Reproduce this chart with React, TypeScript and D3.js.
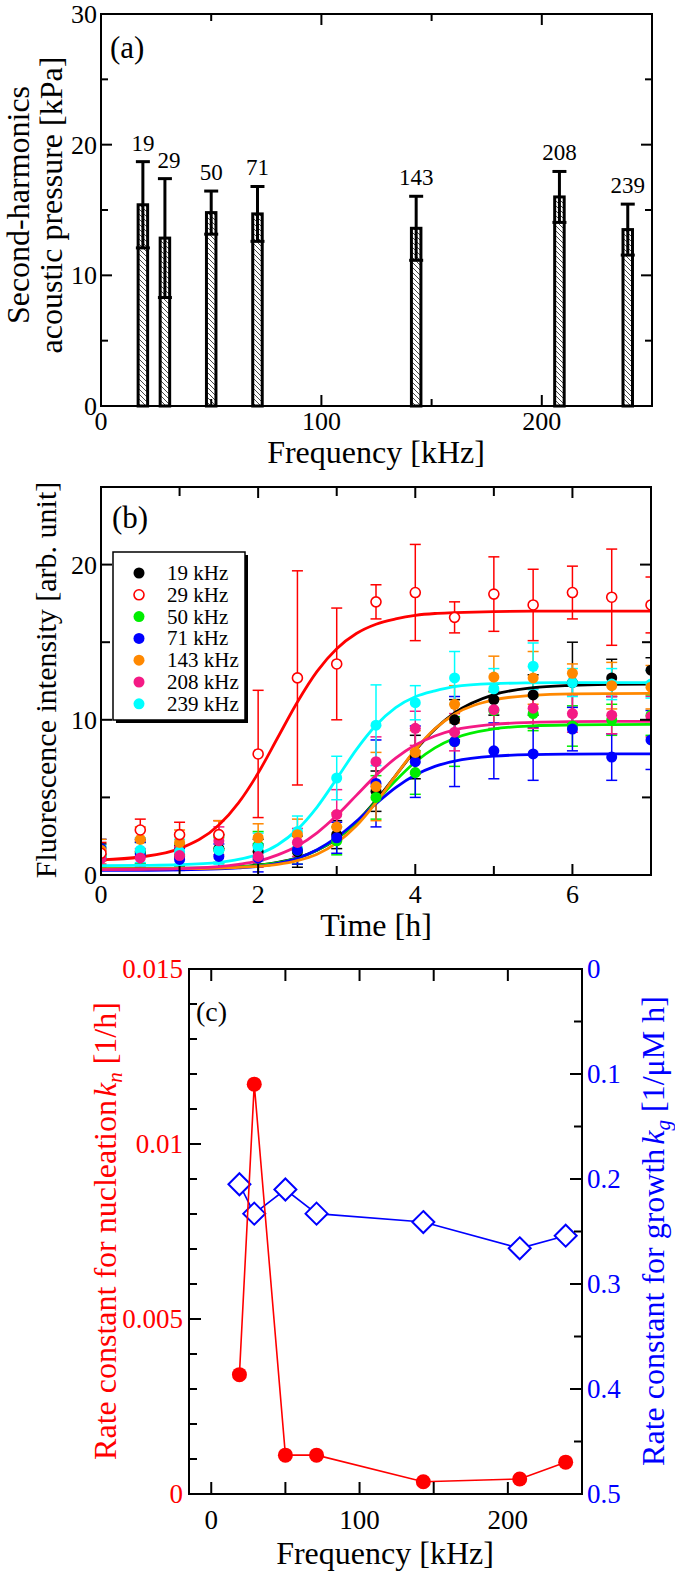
import React from 'react';
import * as d3 from 'd3';

const FONT = '"Liberation Serif", "Times New Roman", Times, serif';

// ---- panel (a): second-harmonics acoustic pressure
const freqA = [19, 29, 50, 71, 143, 208, 239];
const pressure = [15.4, 12.85, 14.8, 14.7, 13.6, 16.0, 13.5];
const pressureErr = [3.3, 4.55, 1.65, 2.1, 2.45, 1.95, 1.95];

// ---- panel (b): fluorescence vs time
const times = [0, 0.5, 1, 1.5, 2, 2.5, 3, 3.5, 4, 4.5, 5, 5.5, 6, 6.5, 7];
const f19 = [1.3, 1.5, 1.2, 1.7, 1.5, 1.5, 2.6, 5.4, 7.6, 10.0, 11.3, 11.6, 12.4, 12.7, 13.2];
const e19 = [0.7, 0.8, 0.7, 0.9, 0.8, 1.0, 0.9, 1.3, 1.4, 1.3, 1.0, 1.3, 2.6, 1.2, 0.8];
const f29 = [1.4, 2.9, 2.6, 2.6, 7.8, 12.7, 13.6, 17.6, 18.2, 16.6, 18.1, 17.4, 18.2, 17.9, 17.4];
const e29 = [0.7, 0.7, 0.8, 0.9, 4.1, 6.9, 3.6, 1.1, 3.1, 1.0, 2.4, 2.3, 1.7, 3.1, 1.8];
const f50 = [1.2, 1.4, 1.3, 1.6, 1.9, 1.6, 2.2, 5.0, 6.6, 8.6, 10.6, 10.4, 9.6, 10.0, 10.3];
const e50 = [0.6, 0.7, 0.7, 0.8, 0.9, 0.9, 0.9, 1.4, 1.4, 1.6, 1.2, 1.1, 1.3, 1.0, 1.3];
const f71 = [1.7, 1.3, 1.0, 1.2, 1.1, 1.6, 2.4, 5.9, 7.3, 8.6, 8.0, 7.8, 9.4, 7.6, 8.7];
const e71 = [0.6, 0.8, 0.7, 0.8, 0.9, 0.9, 1.0, 2.8, 2.3, 2.9, 1.8, 1.7, 1.4, 1.5, 1.9];
const f143 = [1.6, 2.3, 2.1, 2.6, 2.4, 2.6, 3.1, 5.7, 7.9, 11.0, 12.75, 12.7, 13.0, 12.2, 12.1];
const e143 = [0.7, 0.8, 0.8, 0.9, 0.9, 1.0, 0.9, 2.2, 1.4, 1.2, 1.35, 1.7, 0.6, 1.5, 1.4];
const f208 = [1.05, 1.1, 1.25, 2.2, 1.2, 2.1, 3.9, 7.3, 9.45, 9.2, 10.65, 10.75, 10.4, 10.3, 10.2];
const e208 = [0.5, 0.6, 0.6, 0.9, 0.7, 0.9, 1.6, 1.6, 1.1, 1.2, 1.2, 1.3, 1.2, 1.2, 1.3];
const f239 = [1.2, 1.6, 1.5, 1.6, 1.8, 2.8, 6.25, 9.65, 11.1, 12.7, 12.0, 13.45, 12.4, 12.3, 12.3];
const e239 = [0.7, 0.8, 0.8, 0.9, 0.9, 1.0, 1.4, 2.6, 1.1, 1.7, 1.3, 1.5, 0.9, 1.0, 0.9];

// fitted curves
const fitT = [0, 0.5, 1, 1.5, 1.75, 2, 2.25, 2.5, 2.75, 3, 3.25, 3.5, 3.75, 4, 4.25, 4.5, 5, 5.5, 6, 6.5, 7];
const fit19 = [0.4, 0.41, 0.43, 0.48, 0.54, 0.64, 0.82, 1.11, 1.59, 2.33, 3.4, 4.8, 6.41, 8.03, 9.4, 10.44, 11.62, 12.07, 12.22, 12.28, 12.3];
const fit29 = [0.98, 1.16, 1.7, 3.22, 4.65, 6.57, 8.86, 11.15, 13.12, 14.58, 15.56, 16.16, 16.5, 16.73, 16.85, 16.9, 16.97, 17.0, 17.0, 17.0, 17.0];
const fit50 = [0.4, 0.4, 0.42, 0.47, 0.53, 0.62, 0.79, 1.09, 1.6, 2.34, 3.4, 4.72, 6.08, 7.28, 8.19, 8.81, 9.41, 9.61, 9.67, 9.69, 9.7];
const fit71 = [0.3, 0.3, 0.33, 0.4, 0.46, 0.55, 0.75, 1.08, 1.63, 2.42, 3.46, 4.59, 5.63, 6.44, 7.0, 7.34, 7.66, 7.76, 7.79, 7.8, 7.8];
const fit143 = [0.4, 0.4, 0.41, 0.45, 0.49, 0.56, 0.69, 0.93, 1.34, 2.07, 3.17, 4.67, 6.4, 8.07, 9.42, 10.36, 11.28, 11.58, 11.67, 11.69, 11.7];
const fit208 = [0.35, 0.37, 0.41, 0.54, 0.69, 0.9, 1.3, 1.87, 2.72, 3.83, 5.13, 6.42, 7.53, 8.38, 8.96, 9.35, 9.71, 9.83, 9.88, 9.9, 9.9];
const fit239 = [0.6, 0.62, 0.66, 0.81, 1.0, 1.34, 1.95, 2.94, 4.38, 6.2, 8.08, 9.65, 10.79, 11.49, 11.87, 12.14, 12.33, 12.38, 12.4, 12.4, 12.4];

const seriesLabels = ['19 kHz', '29 kHz', '50 kHz', '71 kHz', '143 kHz', '208 kHz', '239 kHz'];
const seriesColors = ['#000000', '#ff0000', '#00ee00', '#0000ff', '#ff8800', '#f41a85', '#00ffff'];

// ---- panel (c): rate constants
const freqC = [19, 29, 50, 71, 143, 208, 239];
const kn = [0.00341, 0.01171, 0.00111, 0.00111, 0.00035, 0.00043, 0.00091];
const kg = [0.205, 0.233, 0.21, 0.233, 0.241, 0.266, 0.254];

const series = seriesLabels.map((label, i) => ({
  label,
  color: seriesColors[i],
  open: i === 1,
  mean: [f19, f29, f50, f71, f143, f208, f239][i],
  err: [e19, e29, e50, e71, e143, e208, e239][i],
  fit: [fit19, fit29, fit50, fit71, fit143, fit208, fit239][i],
}));

type Scale = d3.ScaleLinear<number, number>;

// inward tick marks on one side of a frame
function Ticks({ scale, values, side, at, len, w = 2 }: { scale: Scale; values: number[]; side: string; at: number; len: number; w?: number }) {
  return (
    <g stroke="#000" strokeWidth={w}>
      {values.map((v, i) => {
        const p = scale(v);
        if (side === 'bottom') return <line key={i} x1={p} x2={p} y1={at} y2={at - len} />;
        if (side === 'top') return <line key={i} x1={p} x2={p} y1={at} y2={at + len} />;
        if (side === 'left') return <line key={i} y1={p} y2={p} x1={at} x2={at + len} />;
        return <line key={i} y1={p} y2={p} x1={at} x2={at - len} />;
      })}
    </g>
  );
}

export default function App() {
  // panel a
  const ax = d3.scaleLinear().domain([0, 250]).range([101, 652]);
  const ay = d3.scaleLinear().domain([0, 30]).range([406, 14]);
  // panel b
  const bx = d3.scaleLinear().domain([0, 7]).range([101, 651]);
  const by = d3.scaleLinear().domain([0, 25]).range([875, 487]);
  // panel c
  const cx = d3.scaleLinear().domain([-15, 250]).range([189, 582]);
  const cyL = d3.scaleLinear().domain([0, 0.015]).range([1494, 969]);
  const cyR = d3.scaleLinear().domain([0, 0.5]).range([969, 1494]);

  const barW = 9.5;
  const capW = 14;

  const fitLine = d3.line<number>().x((_, i) => bx(fitT[i])).y(d => by(d)).curve(d3.curveMonotoneX);
  const knLine = d3.line<number>().x((_, i) => cx(freqC[i])).y(d => cyL(d));
  const kgLine = d3.line<number>().x((_, i) => cx(freqC[i])).y(d => cyR(d));

  const pointOrder = [0, 2, 3, 6, 4, 5, 1];

  return (
    <svg width={675} height={1575} style={{ position: 'absolute', left: 0, top: 0, background: '#fff' }} fontFamily={FONT}>
      <defs>
        <pattern id="hatch" patternUnits="userSpaceOnUse" width={5} height={5}>
          <line x1={-1} y1={-1} x2={6} y2={6} stroke="#333" strokeWidth={0.9} />
          <line x1={-1} y1={4} x2={1} y2={6} stroke="#333" strokeWidth={0.9} />
          <line x1={4} y1={-1} x2={6} y2={1} stroke="#333" strokeWidth={0.9} />
        </pattern>
        <clipPath id="clipB">
          <rect x={101} y={487} width={550} height={388} />
        </clipPath>
      </defs>
      <rect x={0} y={0} width={675} height={1575} fill="#fff" />

      {/* ================= panel (a) ================= */}
      <g>
        {freqA.map((f, i) => {
          const x = ax(f);
          return (
            <g key={i}>
              <rect x={x - barW / 2} y={ay(pressure[i])} width={barW} height={ay(0) - ay(pressure[i])} fill="url(#hatch)" stroke="#000" strokeWidth={3} />
              <line x1={x} x2={x} y1={ay(pressure[i] - pressureErr[i])} y2={ay(pressure[i] + pressureErr[i])} stroke="#000" strokeWidth={3} />
              <line x1={x - capW / 2} x2={x + capW / 2} y1={ay(pressure[i] + pressureErr[i])} y2={ay(pressure[i] + pressureErr[i])} stroke="#000" strokeWidth={3} />
              <line x1={x - capW / 2} x2={x + capW / 2} y1={ay(pressure[i] - pressureErr[i])} y2={ay(pressure[i] - pressureErr[i])} stroke="#000" strokeWidth={3} />
              <text x={x + (i === 1 ? 4 : 0)} y={ay(pressure[i] + pressureErr[i]) - 11} fontSize={23} textAnchor="middle">{f}</text>
            </g>
          );
        })}
        <rect x={101} y={14} width={551} height={392} fill="none" stroke="#000" strokeWidth={2} />
        <Ticks scale={ax} values={[0, 100, 200]} side="bottom" at={406} len={11} />
        <Ticks scale={ax} values={[50, 150, 250]} side="bottom" at={406} len={7} />
        <Ticks scale={ax} values={[0, 100, 200]} side="top" at={14} len={11} />
        <Ticks scale={ax} values={[50, 150, 250]} side="top" at={14} len={7} />
        <Ticks scale={ay} values={[10, 20]} side="left" at={101} len={11} />
        <Ticks scale={ay} values={[5, 15, 25]} side="left" at={101} len={7} />
        <Ticks scale={ay} values={[10, 20]} side="right" at={652} len={11} />
        <Ticks scale={ay} values={[5, 15, 25]} side="right" at={652} len={7} />
        {[0, 10, 20, 30].map(v => (
          <text key={v} x={97} y={ay(v) + 9} fontSize={26} textAnchor="end">{v}</text>
        ))}
        {[0, 100, 200].map(v => (
          <text key={v} x={ax(v)} y={430} fontSize={26} textAnchor="middle">{v}</text>
        ))}
        <text x={110} y={58} fontSize={31}>(a)</text>
        <text x={376} y={463} fontSize={32} textAnchor="middle">Frequency [kHz]</text>
        <text transform="translate(29,205) rotate(-90)" fontSize={32} textAnchor="middle">Second-harmonics</text>
        <text transform="translate(62,205) rotate(-90)" fontSize={32} textAnchor="middle">acoustic pressure [kPa]</text>
      </g>

      {/* ================= panel (b) ================= */}
      <g>
        <g clipPath="url(#clipB)">
          {series.map((s, si) => (
            <g key={si} stroke={s.color} strokeWidth={1.5}>
              {times.map((t, i) => {
                const x = bx(t);
                const hi = by(s.mean[i] + s.err[i]);
                const lo = by(s.mean[i] - s.err[i]);
                return (
                  <g key={i}>
                    <line x1={x} x2={x} y1={lo} y2={hi} />
                    <line x1={x - 5.5} x2={x + 5.5} y1={hi} y2={hi} />
                    <line x1={x - 5.5} x2={x + 5.5} y1={lo} y2={lo} />
                  </g>
                );
              })}
            </g>
          ))}
          {[0, 2, 3, 4, 5, 6, 1].map(si => (
            <path key={si} d={fitLine(series[si].fit) || ''} fill="none" stroke={series[si].color} strokeWidth={2.8} />
          ))}
          {pointOrder.map(si => {
            const s = series[si];
            return (
              <g key={si}>
                {times.map((t, i) => (
                  <circle key={i} cx={bx(t)} cy={by(s.mean[i])} r={s.open ? 5 : 5.5}
                    fill={s.open ? '#fff' : s.color} stroke={s.color} strokeWidth={s.open ? 1.6 : 0} />
                ))}
              </g>
            );
          })}
        </g>
        <rect x={101} y={487} width={550} height={388} fill="none" stroke="#000" strokeWidth={2} />
        <Ticks scale={bx} values={[0, 2, 4, 6]} side="bottom" at={875} len={11} />
        <Ticks scale={bx} values={[1, 3, 5, 7]} side="bottom" at={875} len={9} />
        <Ticks scale={bx} values={[0, 2, 4, 6]} side="top" at={487} len={11} />
        <Ticks scale={bx} values={[1, 3, 5, 7]} side="top" at={487} len={9} />
        <Ticks scale={by} values={[10, 20]} side="left" at={101} len={11} />
        <Ticks scale={by} values={[5, 15, 25]} side="left" at={101} len={9} />
        <Ticks scale={by} values={[10, 20]} side="right" at={651} len={11} />
        <Ticks scale={by} values={[5, 15, 25]} side="right" at={651} len={9} />
        {[0, 10, 20].map(v => (
          <text key={v} x={97} y={by(v) + 9} fontSize={26} textAnchor="end">{v}</text>
        ))}
        {[0, 2, 4, 6].map(v => (
          <text key={v} x={bx(v)} y={903} fontSize={26} textAnchor="middle">{v}</text>
        ))}
        <text x={112} y={528} fontSize={31}>(b)</text>
        <text x={376} y={936} fontSize={32} textAnchor="middle">Time [h]</text>
        <text transform="translate(56,680) rotate(-90)" fontSize={30} textAnchor="middle">Fluorescence intensity [arb. unit]</text>

        {/* legend */}
        <rect x={116} y={555} width={132} height={168} fill="#000" />
        <rect x={113} y={552} width={132} height={168} fill="#fff" stroke="#000" strokeWidth={1.5} />
        {series.map((s, i) => {
          const yy = 573 + i * 21.8;
          return (
            <g key={i}>
              <circle cx={139} cy={yy} r={s.open ? 5 : 5.5} fill={s.open ? '#fff' : s.color} stroke={s.color} strokeWidth={s.open ? 1.6 : 0} />
              <text x={167} y={yy + 7} fontSize={21}>{s.label}</text>
            </g>
          );
        })}
      </g>

      {/* ================= panel (c) ================= */}
      <g>
        <path d={kgLine(kg) || ''} fill="none" stroke="#0000ff" strokeWidth={1.6} />
        {freqC.map((f, i) => {
          const x = cx(f);
          const y = cyR(kg[i]);
          const h = 11;
          return <path key={i} d={`M${x},${y - h}L${x + h},${y}L${x},${y + h}L${x - h},${y}Z`} fill="#fff" stroke="#0000ff" strokeWidth={2} />;
        })}
        <path d={knLine(kn) || ''} fill="none" stroke="#ff0000" strokeWidth={1.6} />
        {freqC.map((f, i) => (
          <circle key={i} cx={cx(f)} cy={cyL(kn[i])} r={7.5} fill="#ff0000" />
        ))}
        <rect x={189} y={969} width={393} height={525} fill="none" stroke="#000" strokeWidth={2} />
        <Ticks scale={cx} values={[0, 50, 100, 150, 200]} side="bottom" at={1494} len={12} />
        <Ticks scale={cx} values={[0, 50, 100, 150, 200]} side="top" at={969} len={12} />
        <Ticks scale={cyL} values={[0.005, 0.01]} side="left" at={189} len={12} />
        <Ticks scale={cyL} values={d3.range(1, 15).filter(v => v % 5 !== 0).map(v => v / 1000)} side="left" at={189} len={8} />
        <Ticks scale={cyR} values={[0.1, 0.2, 0.3, 0.4]} side="right" at={582} len={12} />
        <Ticks scale={cyR} values={[0.05, 0.15, 0.25, 0.35, 0.45]} side="right" at={582} len={8} />
        {[0, 0.005, 0.01, 0.015].map(v => (
          <text key={v} x={183} y={cyL(v) + 9} fontSize={27} textAnchor="end" fill="#ff0000">{v === 0 ? '0' : String(v)}</text>
        ))}
        {[0, 0.1, 0.2, 0.3, 0.4, 0.5].map(v => (
          <text key={v} x={587} y={cyR(v) + 9} fontSize={27} fill="#0000ff">{v === 0 ? '0' : String(v)}</text>
        ))}
        {[0, 100, 200].map(v => (
          <text key={v} x={cx(v)} y={1529} fontSize={27} textAnchor="middle">{v}</text>
        ))}
        <text x={196} y={1021} fontSize={28}>(c)</text>
        <text x={385} y={1564} fontSize={32} textAnchor="middle">Frequency [kHz]</text>
        <text transform="translate(116,1231) rotate(-90)" fontSize={32} textAnchor="middle" fill="#ff0000">
          Rate constant for nucleation<tspan fontStyle="italic" dx={3}>k</tspan><tspan fontStyle="italic" fontSize={21} dy={6}>n</tspan><tspan dy={-6}> [1/h]</tspan>
        </text>
        <text transform="translate(664,1231) rotate(-90)" fontSize={32} textAnchor="middle" fill="#0000ff">
          Rate constant for growth<tspan fontStyle="italic" dx={4}>k</tspan><tspan fontStyle="italic" fontSize={21} dy={6}>g</tspan><tspan dy={-6}> [1/μM h]</tspan>
        </text>
      </g>
    </svg>
  );
}
